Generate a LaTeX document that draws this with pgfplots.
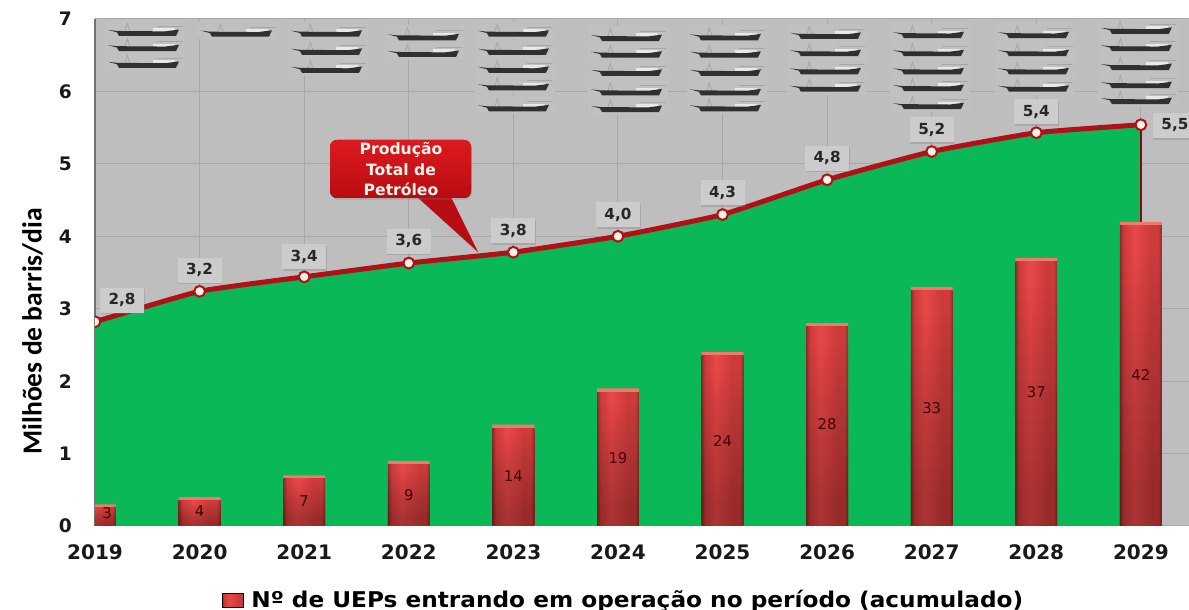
\documentclass[border=0pt]{standalone}
\usepackage{fontspec}
\setmainfont{DejaVu Sans}
\newfontfamily\carlito{Carlito}
\newfontfamily\widefont[FakeStretch=1.07]{DejaVu Sans Bold}
\usepackage{pgfplots}
\usepackage{pgfplotstable}
\pgfplotsset{compat=1.18}
\usetikzlibrary{shadows}
\definecolor{bggrey}{HTML}{BEBEBE}
\definecolor{halo}{HTML}{C0C0C0}
\definecolor{gridc}{HTML}{A8A8A8}
\definecolor{areag}{HTML}{0BB857}
\definecolor{linered}{HTML}{B30F16}
\definecolor{hullc}{HTML}{303030}
\definecolor{derrick}{HTML}{A6A6A6}
\definecolor{deckc}{HTML}{E8E8E8}
\definecolor{edgec}{HTML}{8A2C2C}
\definecolor{redA}{HTML}{CC3A3A}
\definecolor{redB}{HTML}{E84848}
\definecolor{capc}{HTML}{F07A6A}
\definecolor{calloutA}{HTML}{DC1A20}
\definecolor{calloutB}{HTML}{B80C12}
\pgfdeclarehorizontalshading{barh}{100bp}{color(0bp)=(edgec); color(25bp)=(edgec); color(29bp)=(redA); color(42bp)=(redB); color(62bp)=(redA); color(71bp)=(redA); color(75bp)=(edgec); color(100bp)=(edgec)}
\pgfdeclareplotmark{shiphalo}{%
  \pgfsetfillcolor{halo}%
  \pgfpathrectanglecorners{\pgfpoint{-20pt}{-3pt}}{\pgfpoint{20pt}{6pt}}%
  \pgfusepathqfill}
\pgfdeclareplotmark{ship}{%
  \pgfsetlinewidth{0.4pt}%
  \pgfsetstrokecolor{derrick}%
  \pgfpathmoveto{\pgfpoint{-10pt}{0.8pt}}%
  \pgfpathlineto{\pgfpoint{-8.8pt}{4.6pt}}%
  \pgfpathlineto{\pgfpoint{-7.6pt}{0.8pt}}%
  \pgfusepathqstroke
  \pgfpathmoveto{\pgfpoint{6pt}{3.2pt}}%
  \pgfpathlineto{\pgfpoint{19pt}{3.2pt}}%
  \pgfusepathqstroke
  \pgfsetfillcolor{deckc}%
  \pgfpathrectanglecorners{\pgfpoint{4pt}{0.6pt}}{\pgfpoint{15pt}{2.2pt}}%
  \pgfusepathqfill
  \pgfsetfillcolor{hullc}%
  \pgfpathmoveto{\pgfpoint{-18.5pt}{1.4pt}}%
  \pgfpathlineto{\pgfpoint{-14pt}{0.9pt}}%
  \pgfpathlineto{\pgfpoint{10pt}{0.7pt}}%
  \pgfpathlineto{\pgfpoint{17pt}{1.6pt}}%
  \pgfpathlineto{\pgfpoint{15.5pt}{-1.6pt}}%
  \pgfpathlineto{\pgfpoint{-13pt}{-1.6pt}}%
  \pgfpathlineto{\pgfpoint{-14pt}{0.2pt}}%
  \pgfpathclose
  \pgfusepathqfill}
\pgfplotstableread{
x y
0 2.82
1 3.24
2 3.44
3 3.63
4 3.78
5 4.00
6 4.30
7 4.78
8 5.17
9 5.43
10 5.54
}\prodtable
\pgfplotstableread{
x y cap
0 0.3 0.25
1 0.4 0.35
2 0.7 0.65
3 0.9 0.85
4 1.4 1.35
5 1.9 1.85
6 2.4 2.35
7 2.8 2.75
8 3.3 3.25
9 3.7 3.65
10 4.2 4.15
}\bartable
\pgfplotstableread{
x y label
0.115 0.18 3
1 0.20 4
2 0.35 7
3 0.43 9
4 0.69 14
5 0.94 19
6 1.17 24
7 1.40 28
8 1.63 33
9 1.85 37
10 2.08 42
}\barlabels
\pgfplotstableread{
x y label
0.258 3.12 2,8
1 3.53 3,2
2 3.72 3,4
3 3.93 3,6
4 4.08 3,8
5 4.30 4,0
6 4.60 4,3
7 5.08 4,8
8 5.47 5,2
9 5.72 5,4
10.325 5.53 5,5
}\prodlabels
\pgfplotstableread{
x y
0.478 6.81
0.478 6.60
0.478 6.37
1.367 6.80
2.228 6.80
2.228 6.55
2.228 6.30
3.155 6.75
3.155 6.52
4.015 6.80
4.015 6.55
4.015 6.30
4.015 6.06
4.015 5.77
5.096 6.74
5.096 6.51
5.096 6.26
5.096 5.99
5.096 5.76
6.042 6.75
6.042 6.51
6.042 6.26
6.042 5.99
6.042 5.77
6.998 6.77
6.998 6.53
6.998 6.28
6.998 6.04
7.983 6.78
7.983 6.53
7.983 6.28
7.983 6.05
7.983 5.80
8.987 6.78
8.987 6.53
8.987 6.28
8.987 6.04
9.971 6.84
9.971 6.60
9.971 6.34
9.971 6.09
9.971 5.87
}\shiptable
\begin{document}
\begin{tikzpicture}
\path[use as bounding box] (0,0) rectangle (594.5pt,305pt);
\begin{axis}[
  at={(47.5pt,42pt)}, anchor=south west,
  scale only axis, width=547pt, height=253.5pt,
  xmin=0, xmax=10.46, ymin=0, ymax=7,
  axis x line=bottom, axis y line=left,
  axis line style={-},
  x axis line style={draw=none},
  y axis line style={draw=gray!90!black, line width=0.6pt},
  axis background/.style={fill=bggrey},
  major tick length=0pt,
  xtick={0,1,...,10},
  xticklabels={2019,2020,2021,2022,2023,2024,2025,2026,2027,2028,2029},
  ytick={0,1,...,7},
  /pgf/number format/assume math mode=true,
  tick label style={font=\bfseries\fontsize{10}{12}\selectfont, text=black!90},
  yticklabel style={font=\bfseries\fontsize{9.3}{12}\selectfont, xshift=-8pt},
  xticklabel style={yshift=-6pt},
  xmajorgrids, ymajorgrids,
  grid style={draw=gridc, line width=0.5pt},
  clip marker paths=true,
  ylabel={Milhões de barris/dia},
  ylabel style={at={(axis description cs:-0.057,0.384)}, anchor=center,
    font=\carlito\bfseries\fontsize{13.8}{15}\selectfont},
  legend style={at={(axis description cs:0.116,-0.146)}, anchor=west, draw=none, fill=none,
    font=\widefont\fontsize{10.85}{12}\selectfont, inner sep=0pt, outer sep=0pt},
  legend cell align=left,
  legend image code/.code={
    \fill[shading=barh, shading angle=0] (0cm,-3.5pt) rectangle (10.5pt,3.5pt);
  },
]
\addplot[fill=areag, draw=none, forget plot] table[x=x,y=y] {\prodtable} \closedcycle;
\addplot[draw=linered!75!black, line width=0.7pt, forget plot] coordinates {(10,5.54) (10,4.1)};
\addplot[ybar, bar shift=0pt, bar width=0.4, fill=capc, draw=none, forget plot] table[x=x,y=y] {\bartable};
% one plot for each bar, so that each has its own shading
\pgfplotsinvokeforeach{0,1,2,3,4,5,6,7,8,9,10}{
  \addplot[ybar, bar shift=0pt, bar width=0.4, draw=none, shading=barh, shading angle=0,
    restrict x to domain=#1:#1, forget plot] table[x=x,y=cap] {\bartable};
}
% vertical darkening of the bars, towards their foot
\pgfplotsinvokeforeach{0.15,0.2,0.25,0.3,0.35,0.4,0.45,0.5,0.55,0.6,0.65,0.7,0.75,0.8,0.85,0.9}{
  \addplot[ybar, bar shift=0pt, bar width=0.4, draw=none, fill=black, fill opacity=0.016, forget plot]
    table[x=x,y expr=\thisrow{cap}*#1] {\bartable};
}
\addlegendimage{}
\addlegendentry{\,Nº de UEPs entrando em operação no período (acumulado)}
\addplot[draw=none, forget plot, point meta=explicit symbolic,
  nodes near coords,
  every node near coord/.style={anchor=center, inner sep=0pt, text=red!25!black,
    font=\fontsize{7.4}{9}\selectfont}]
  table[x=x,y=y,meta=label] {\barlabels};
\addplot[draw=linered, line width=2.5pt, smooth, tension=0.25, forget plot,
  mark=*, mark size=2.7pt, mark options={fill=white!90!orange, draw=linered, line width=1pt}]
  table[x=x,y=y] {\prodtable};
\addplot[draw=none, forget plot, point meta=explicit symbolic,
  nodes near coords,
  every node near coord/.style={anchor=center, fill=black!20, minimum width=22pt, minimum height=12.5pt,
    inner sep=0pt, drop shadow={shadow xshift=0.3pt, shadow yshift=-0.8pt, opacity=0.35},
    text=black!85, font=\bfseries\fontsize{7.6}{9}\selectfont}]
  table[x=x,y=y,meta=label] {\prodlabels};
\addplot[only marks, mark=shiphalo, forget plot] table[x=x,y=y] {\shiptable};
\addplot[only marks, mark=ship, forget plot] table[x=x,y=y] {\shiptable};
\end{axis}
\begin{scope}[x=0.5pt, y=-0.5pt, yshift=305pt]
  \fill[calloutB, drop shadow={shadow xshift=0.5pt, shadow yshift=-0.8pt, opacity=0.3}] (415,195) -- (478,252) -- (450,195) -- cycle;
  \fill[rounded corners=3.5pt, top color=calloutA, bottom color=calloutB,
    drop shadow={shadow xshift=0.5pt, shadow yshift=-0.8pt, opacity=0.3}] (330,140) rectangle (471,198);
  \node[text=white!92!orange, font=\bfseries\fontsize{7.8}{9}\selectfont] at (401,150) {Produção};
  \node[text=white!92!orange, font=\bfseries\fontsize{7.8}{9}\selectfont] at (401,170) {Total de};
  \node[text=white!92!orange, font=\bfseries\fontsize{7.8}{9}\selectfont] at (401,189) {Petróleo};
\end{scope}
\end{tikzpicture}
\end{document}
